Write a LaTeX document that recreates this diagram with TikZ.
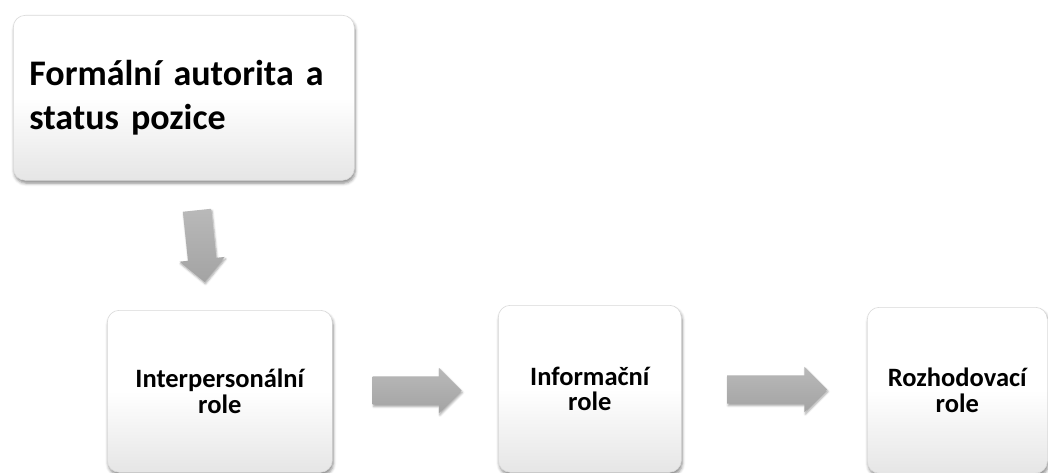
\documentclass[tikz,border=0pt]{standalone}
\usepackage{fontspec}
\setmainfont{Carlito}
\usetikzlibrary{shapes.arrows,shadows.blur}

\tikzset{
  rolebox/.style={
    draw=gray!30, line width=0.6pt, rounded corners=12pt,
    top color=white, bottom color=gray!20, middle color=white,
    blur shadow={shadow xshift=1pt, shadow yshift=-3pt,
                 shadow blur radius=3pt, shadow opacity=45},
    inner sep=0pt, font=\bfseries\fontsize{26.5}{25.5}\selectfont,
    align=center, anchor=north west
  },
  blockarrow/.style={
    single arrow, draw=none, inner xsep=0pt, inner ysep=14pt,
    top color=gray!55, bottom color=gray!72,
    minimum width=45pt, single arrow head extend=8.5pt,
    single arrow tip angle=90,
    blur shadow={shadow xshift=1pt, shadow yshift=-2pt,
                 shadow blur radius=2pt, shadow opacity=35}
  }
}

\begin{document}
\begin{tikzpicture}[x=1pt,y=-1pt]
  \useasboundingbox (0,0) rectangle (1048,473);

  % source box
  \node[rolebox, minimum width=341pt, minimum height=165pt,
        text width=309pt, align=left,
        font=\bfseries\fontsize{36}{44}\selectfont]
        (src) at (13,15) {Formální autorita a\\status pozice};

  % the three roles
  \node[rolebox, minimum width=225pt, minimum height=162pt]
        (inter) at (107,310) {Interpersonální\\role};
  \node[rolebox, minimum width=183pt, minimum height=167pt]
        (info) at (498,305) {Informační\\role};
  \node[rolebox, minimum width=180pt, minimum height=166pt]
        (rozh) at (867,307) {Rozhodovací\\role};

  % block arrows
  \node[blockarrow, minimum height=72pt, rotate=-84] (down) at (200,239) {};
  \node[blockarrow, minimum height=89pt] (right1) at (410,390.5) {};
  \node[blockarrow, minimum height=100pt] (right2) at (770,389.5) {};
\end{tikzpicture}
\end{document}
